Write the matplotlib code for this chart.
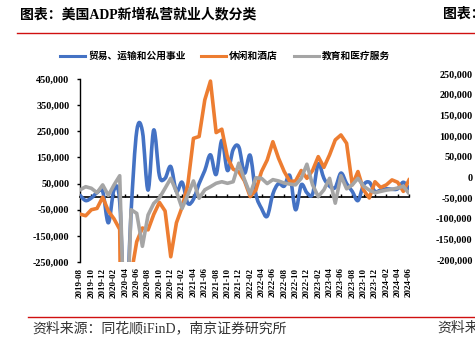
import numpy as np
import pandas as pd
import matplotlib
matplotlib.use('Agg')
import matplotlib.pyplot as plt
from matplotlib.path import Path
from matplotlib.patches import PathPatch
from matplotlib.lines import Line2D
from matplotlib.font_manager import FontProperties

# ADP private payroll changes by sector, monthly, persons (values in thousands)
months = pd.date_range('2019-08-01', '2024-06-01', freq='MS').strftime('%Y-%m').tolist()

trade_k = [5, -15, -5, 15, 20, -100, 26, -20, -500, -60,
           250, 250, 25, 255, 80, 70, 115, 20, 55, -25,
           -10, 50, 100, 160, 85, 215, 100, 180, 190, 90,
           158, 10, -45, -75, 10, 50, 40, 80, -50, 45,
           15, 10, 125, 70, 40, 35, 90, 50, 20, -15,
           45, 55, 20, 25, 30, 28, 30, 55, 30]
leisure_k = [-67, -73, -50, -45, -2, -55, -85, -125, -2000, -300,
             -172, -120, -127, -68, -22, -55, -230, -100, -40, 45,
             223, 230, 370, 442, 245, 258, 150, 105, 95, 60,
             0, 25, 96, 140, 210, 147, 96, 58, 60, 100,
             70, 100, 153, 112, 160, 217, 236, 204, 45, 96,
             25, -5, 57, 35, 45, 64, 55, 20, 64]
health_k = [26, 38, 32, 15, 45, 5, 45, 80, -650, -50,
            -64, -190, -70, -26, -5, 32, 70, 19, -45, 6,
            60, -6, 26, 38, 51, 57, 51, 57, 128, 65,
            10, 72, 70, 50, 65, 60, 52, 48, 45, 70,
            124, 45, 0, 26, 70, -25, 80, 30, 45, 70,
            40, 25, 15, 20, 25, 28, 33, 40, 12]

series_names = ['贸易、运输和公用事业', '休闲和酒店', '教育和医疗服务']
colors = ['#4472C4', '#ED7D31', '#A5A5A5']

left_ticks = np.arange(-250000, 450001, 100000)
right_ticks = np.arange(-200000, 250001, 50000)

x = np.arange(len(months))
trade = np.array(trade_k) * 1000
leisure = np.array(leisure_k) * 1000
health = np.array(health_k) * 1000


def smooth_path(xs, ys):
    # Catmull-Rom style bezier through every point (Excel "smoothed line")
    n = len(xs)
    verts = [(xs[0], ys[0])]
    codes = [Path.MOVETO]
    for i in range(n - 1):
        p0 = max(i - 1, 0)
        p3 = min(i + 2, n - 1)
        c1 = (xs[i] + (xs[i + 1] - xs[p0]) / 6, ys[i] + (ys[i + 1] - ys[p0]) / 6)
        c2 = (xs[i + 1] - (xs[p3] - xs[i]) / 6, ys[i + 1] - (ys[p3] - ys[i]) / 6)
        verts += [c1, c2, (xs[i + 1], ys[i + 1])]
        codes += [Path.CURVE4] * 3
    return Path(verts, codes)


fig = plt.figure(figsize=(4.75, 3.44), dpi=100)
ax = fig.add_axes([80 / 475, 1 - 262 / 344, 329 / 475, 183 / 344])

lw = 2.6
ax.add_patch(PathPatch(smooth_path(x, trade), fill=False, edgecolor=colors[0],
                       lw=lw, joinstyle='round', capstyle='round', zorder=3))
ax.plot(x, leisure, color=colors[1], lw=lw, solid_joinstyle='round', zorder=4)
ax.plot(x, health, color=colors[2], lw=lw, solid_joinstyle='round', zorder=5)

ax.set_xlim(0, len(months) - 1)
ax.set_ylim(-250000, 450000)

ax.set_yticks(left_ticks)
ax.set_yticklabels([f'{int(v):,}' for v in left_ticks],
                   fontproperties=FontProperties(family='Liberation Serif', weight='bold', size=7.3))
ax.tick_params(axis='y', length=2.5, width=1, pad=5, direction='out')

ax.set_xticks(x[::2])
ax.set_xticklabels(months[::2], rotation=90,
                   fontproperties=FontProperties(family='Liberation Serif', weight='bold', size=6.5))
ax.tick_params(axis='x', length=0, pad=4)

for s in ['top', 'right', 'bottom']:
    ax.spines[s].set_visible(False)
ax.spines['left'].set_linewidth(1)

# zero line carrying the small category ticks
zero_ax = ax.secondary_xaxis(250000 / 700000)
zero_ax.set_xticks(x[::2])
zero_ax.tick_params(axis='x', direction='in', length=2.5, width=1, labelbottom=False)
zero_ax.spines['bottom'].set_linewidth(1.2)

handles = [Line2D([0], [0], color=c, lw=2.2) for c in colors]
fig.legend(handles, series_names, loc='center', bbox_to_anchor=(225 / 475, 1 - 56 / 344),
           ncol=3, frameon=False, handlelength=2.6, handletextpad=0.3, columnspacing=1.6,
           prop=FontProperties(family='Noto Sans CJK SC', weight='bold', size=7))

# neighbouring chart's axis labels at the right edge
ax2 = fig.add_axes([476 / 475, 1 - 280.5 / 344, 0.2, 206.5 / 344])
ax2.set_ylim(-250000, 250000)
ax2.set_yticks(right_ticks)
ax2.set_yticklabels([f'{int(v):,}' for v in right_ticks],
                    fontproperties=FontProperties(family='Liberation Serif', weight='bold', size=7.3))
ax2.tick_params(axis='y', length=0, pad=2.4)
ax2.set_xticks([])
for s in ax2.spines.values():
    s.set_visible(False)
ax2.patch.set_visible(False)

title_font = ['Liberation Serif', 'Noto Sans CJK SC']
fig.text(20 / 475, 1 - 14 / 344, '图表：美国ADP新增私营就业人数分类', fontsize=10,
         fontweight='bold', family=title_font, ha='left', va='center')
fig.text(443 / 475, 1 - 14 / 344, '图表：', fontsize=10, fontweight='bold',
         family=title_font, ha='left', va='center')

red = '#D01010'
fig.add_artist(Line2D([17 / 475, 1], [1 - 33 / 344] * 2, color=red, lw=1))
fig.add_artist(Line2D([28 / 475, 1], [1 - 316.5 / 344] * 2, color=red, lw=1))

fig.text(32 / 475, 1 - 328 / 344, '资料来源：同花顺iFinD，南京证券研究所', fontsize=10,
         family=title_font, color='#333333', ha='left', va='center')
fig.text(437 / 475, 1 - 328 / 344, '资料来', fontsize=10,
         family=title_font, color='#333333', ha='left', va='center')

fig.savefig('out.png', dpi=100)
